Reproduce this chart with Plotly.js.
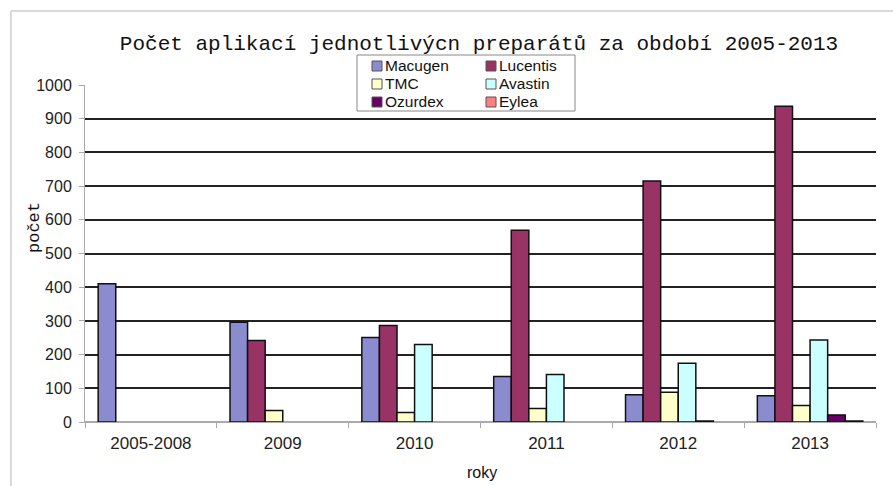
<!DOCTYPE html>
<html>
<head>
<meta charset="utf-8">
<script src="https://cdn.plot.ly/plotly-3.0.1.min.js"></script>
<style>html,body{margin:0;padding:0;background:#fff;}#chart{width:893px;height:486px;}</style>
</head>
<body>
<div id="chart"></div>
<script>
const categories = ["2005-2008", "2009", "2010", "2011", "2012", "2013"];
const seriesNames = ["Macugen", "Lucentis", "TMC", "Avastin", "Ozurdex", "Eylea"];
const seriesColors = ["#8a8ccf", "#993366", "#ffffcc", "#ccffff", "#660066", "#ff8080"];
const macugen  = [410, 296, 251, 135, 81, 78];
const lucentis = [null, 242, 286, 569, 715, 937];
const tmc      = [null, 34, 28, 40, 88, 49];
const avastin  = [null, null, 230, 141, 174, 243];
const ozurdex  = [null, null, null, null, 3, 21];
const eylea    = [null, null, null, null, null, 3];
const seriesValues = [macugen, lucentis, tmc, avastin, ozurdex, eylea];
const yTicks = [0, 100, 200, 300, 400, 500, 600, 700, 800, 900, 1000];

const W = 893, H = 486;
const M = {l: 85, r: 17, t: 85, b: 64};
const PW = W - M.l - M.r, PH = H - M.t - M.b;
const px = x => (x - M.l) / PW;
const py = y => (H - M.b - y) / PH;

const data = seriesNames.map((name, i) => ({
  type: 'bar', name: name, x: categories, y: seriesValues[i],
  marker: {color: seriesColors[i], line: {color: '#111', width: 1.5}},
  hoverinfo: 'x+y+name'
}));

// custom two-column legend (row-major order like the original)
const legCols = [372, 486];
const legRows = [66, 84, 102];
const sw = 10;
const legendShapes = [
  {type: 'rect', xref: 'paper', yref: 'paper', x0: px(357), x1: px(575), y0: py(111), y1: py(55),
   fillcolor: '#fff', line: {color: '#888', width: 1}, layer: 'above'}
];
const legendTexts = [];
seriesNames.forEach((name, i) => {
  const cx = legCols[i % 2], cy = legRows[Math.floor(i / 2)];
  legendShapes.push({type: 'rect', xref: 'paper', yref: 'paper',
    x0: px(cx), x1: px(cx + sw), y0: py(cy + sw / 2), y1: py(cy - sw / 2),
    fillcolor: seriesColors[i], line: {color: '#555', width: 1}, layer: 'above'});
  legendTexts.push({text: name, xref: 'paper', yref: 'paper', x: px(cx + sw + 2), y: py(cy - 0.5),
    xanchor: 'left', yanchor: 'middle', showarrow: false, borderpad: 0,
    font: {family: 'Liberation Sans, Arial, sans-serif', size: 15.5, color: '#111'}});
});

const layout = {
  width: W, height: H,
  margin: M,
  paper_bgcolor: '#fff', plot_bgcolor: '#fff',
  barmode: 'group', bargap: 0.2, bargroupgap: 0,
  showlegend: false,
  title: {
    text: 'Počet aplikací jednotlivýcn preparátů za období 2005-2013',
    font: {family: 'Liberation Mono, Courier New, monospace', size: 21, color: '#111'},
    x: 479 / W, xanchor: 'center', y: 1 - 43 / H, yanchor: 'middle'
  },
  xaxis: {
    type: 'category', showgrid: false, showline: true, linecolor: '#aaa', linewidth: 1,
    ticks: 'outside', tickson: 'boundaries', ticklen: 5, tickcolor: '#aaa',
    tickfont: {family: 'Liberation Sans, Arial, sans-serif', size: 17, color: '#222'},
    ticklabelstandoff: 6, fixedrange: true
  },
  yaxis: {
    range: [0, 1000], tickvals: yTicks, ticktext: yTicks.map(String),
    showgrid: true, gridcolor: '#222', gridwidth: 1.8,
    zeroline: true, zerolinecolor: '#aaa', zerolinewidth: 2,
    showline: true, linecolor: '#aaa', linewidth: 1,
    ticks: 'outside', ticklen: 5, tickcolor: '#aaa',
    tickfont: {family: 'Liberation Sans, Arial, sans-serif', size: 16, color: '#222'},
    ticklabelstandoff: 4, fixedrange: true
  },
  shapes: legendShapes.concat([
    {type: 'line', xref: 'paper', yref: 'paper', x0: px(11), x1: px(893), y0: py(11), y1: py(11),
     line: {color: '#ccc', width: 1.5}},
    {type: 'line', xref: 'paper', yref: 'paper', x0: px(11), x1: px(11), y0: py(11), y1: py(486),
     line: {color: '#ccc', width: 1.5}}
  ]),
  annotations: legendTexts.concat([
    {text: 'počet', xref: 'paper', yref: 'paper', x: px(34), y: py(228), textangle: -90,
     showarrow: false, xanchor: 'center', yanchor: 'middle',
     font: {family: 'Liberation Mono, Courier New, monospace', size: 17, color: '#111'}},
    {text: 'roky', xref: 'paper', yref: 'paper', x: px(482), y: py(472),
     showarrow: false, xanchor: 'center', yanchor: 'middle',
     font: {family: 'Liberation Sans, Arial, sans-serif', size: 16, color: '#111'}}
  ])
};

Plotly.newPlot('chart', data, layout, {displayModeBar: false});
</script>
</body>
</html>
